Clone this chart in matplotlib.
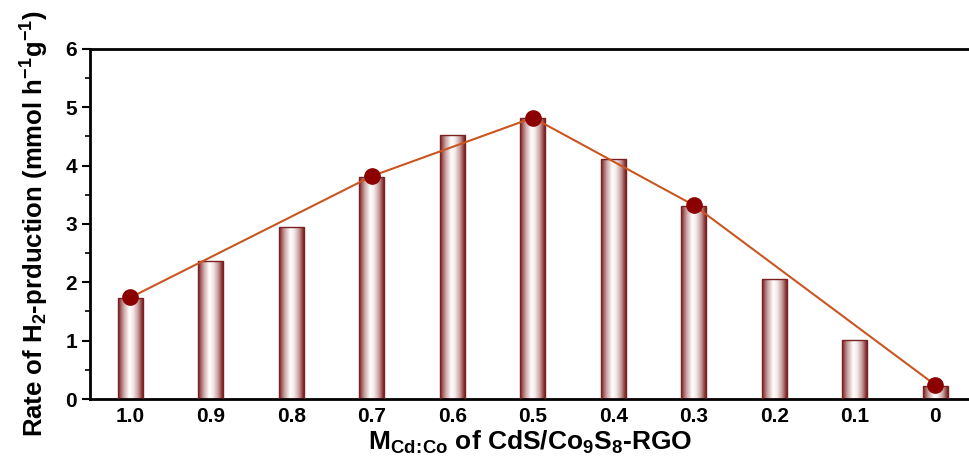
import numpy as np
import matplotlib
matplotlib.use('Agg')
from matplotlib import pyplot as plt
from matplotlib.colors import LinearSegmentedColormap

plt.rcParams['font.family'] = ['Liberation Sans', 'DejaVu Sans']
plt.rcParams['font.weight'] = 'bold'
plt.rcParams['mathtext.default'] = 'regular'

ratios = ['1.0', '0.9', '0.8', '0.7', '0.6', '0.5', '0.4', '0.3', '0.2', '0.1', '0']
rates = [1.73, 2.36, 2.95, 3.81, 4.52, 4.82, 4.12, 3.31, 2.05, 1.01, 0.23]
marked = ['1.0', '0.7', '0.5', '0.3', '0']
marked_rates = [1.74, 3.82, 4.82, 3.32, 0.24]

x = np.arange(len(ratios))
mx = [ratios.index(m) for m in marked]

fig = plt.figure(figsize=(9.7, 4.7), dpi=100)
ax = fig.add_axes([0.093, 0.151, 0.907, 0.745])

bars = ax.bar(x, rates, width=0.31, color='none', edgecolor='#7a2020', linewidth=1.0, zorder=3)

# horizontal gradient inside each bar: dark red edges, white centre
cmap = LinearSegmentedColormap.from_list('bar', [(0, '#7a1c1c'), (0.22, '#c9a0a0'), (0.45, '#ffffff'),
                                                  (0.6, '#f4ecec'), (0.8, '#c9a0a0'), (1, '#7a1c1c')])
grad = np.linspace(0, 1, 256).reshape(1, -1)
for b in bars:
    x0, w, h = b.get_x(), b.get_width(), b.get_height()
    im = ax.imshow(grad, cmap=cmap, aspect='auto', extent=[x0, x0 + w, 0, h], zorder=2, interpolation='bicubic')
    im.set_clip_path(b)

ax.plot(mx, marked_rates, color='#c9561f', linewidth=1.5, zorder=4)
ax.plot(mx, marked_rates, 'o', color='#8b0000', markersize=11, zorder=5)

ax.set_xlim(-0.5, 10.43)
ax.set_ylim(0, 6)
ax.set_xticks(x)
ax.set_xticklabels(ratios)
ax.set_yticks(range(7))
ax.set_yticks(np.arange(0.5, 6, 1), minor=True)
ax.tick_params(axis='x', length=0, labelsize=15, pad=6)
ax.tick_params(axis='y', which='major', direction='out', length=6, width=1.5, labelsize=15)
ax.tick_params(axis='y', which='minor', direction='out', length=3.5, width=1.2)
for lab in ax.get_xticklabels() + ax.get_yticklabels():
    lab.set_fontweight('bold')

for s in ['top', 'bottom', 'left']:
    ax.spines[s].set_linewidth(2)
ax.spines['right'].set_visible(False)

ax.set_ylabel('Rate of H$_2$-prduction (mmol h$^{-1}$g$^{-1}$)', fontsize=18.5, fontweight='bold', labelpad=10)
ax.set_xlabel(r'M$_{Cd\!:\!Co}$ of CdS/Co$_9$S$_8$-RGO', fontsize=19, fontweight='bold', labelpad=2)

fig.savefig('out.png', dpi=100)
